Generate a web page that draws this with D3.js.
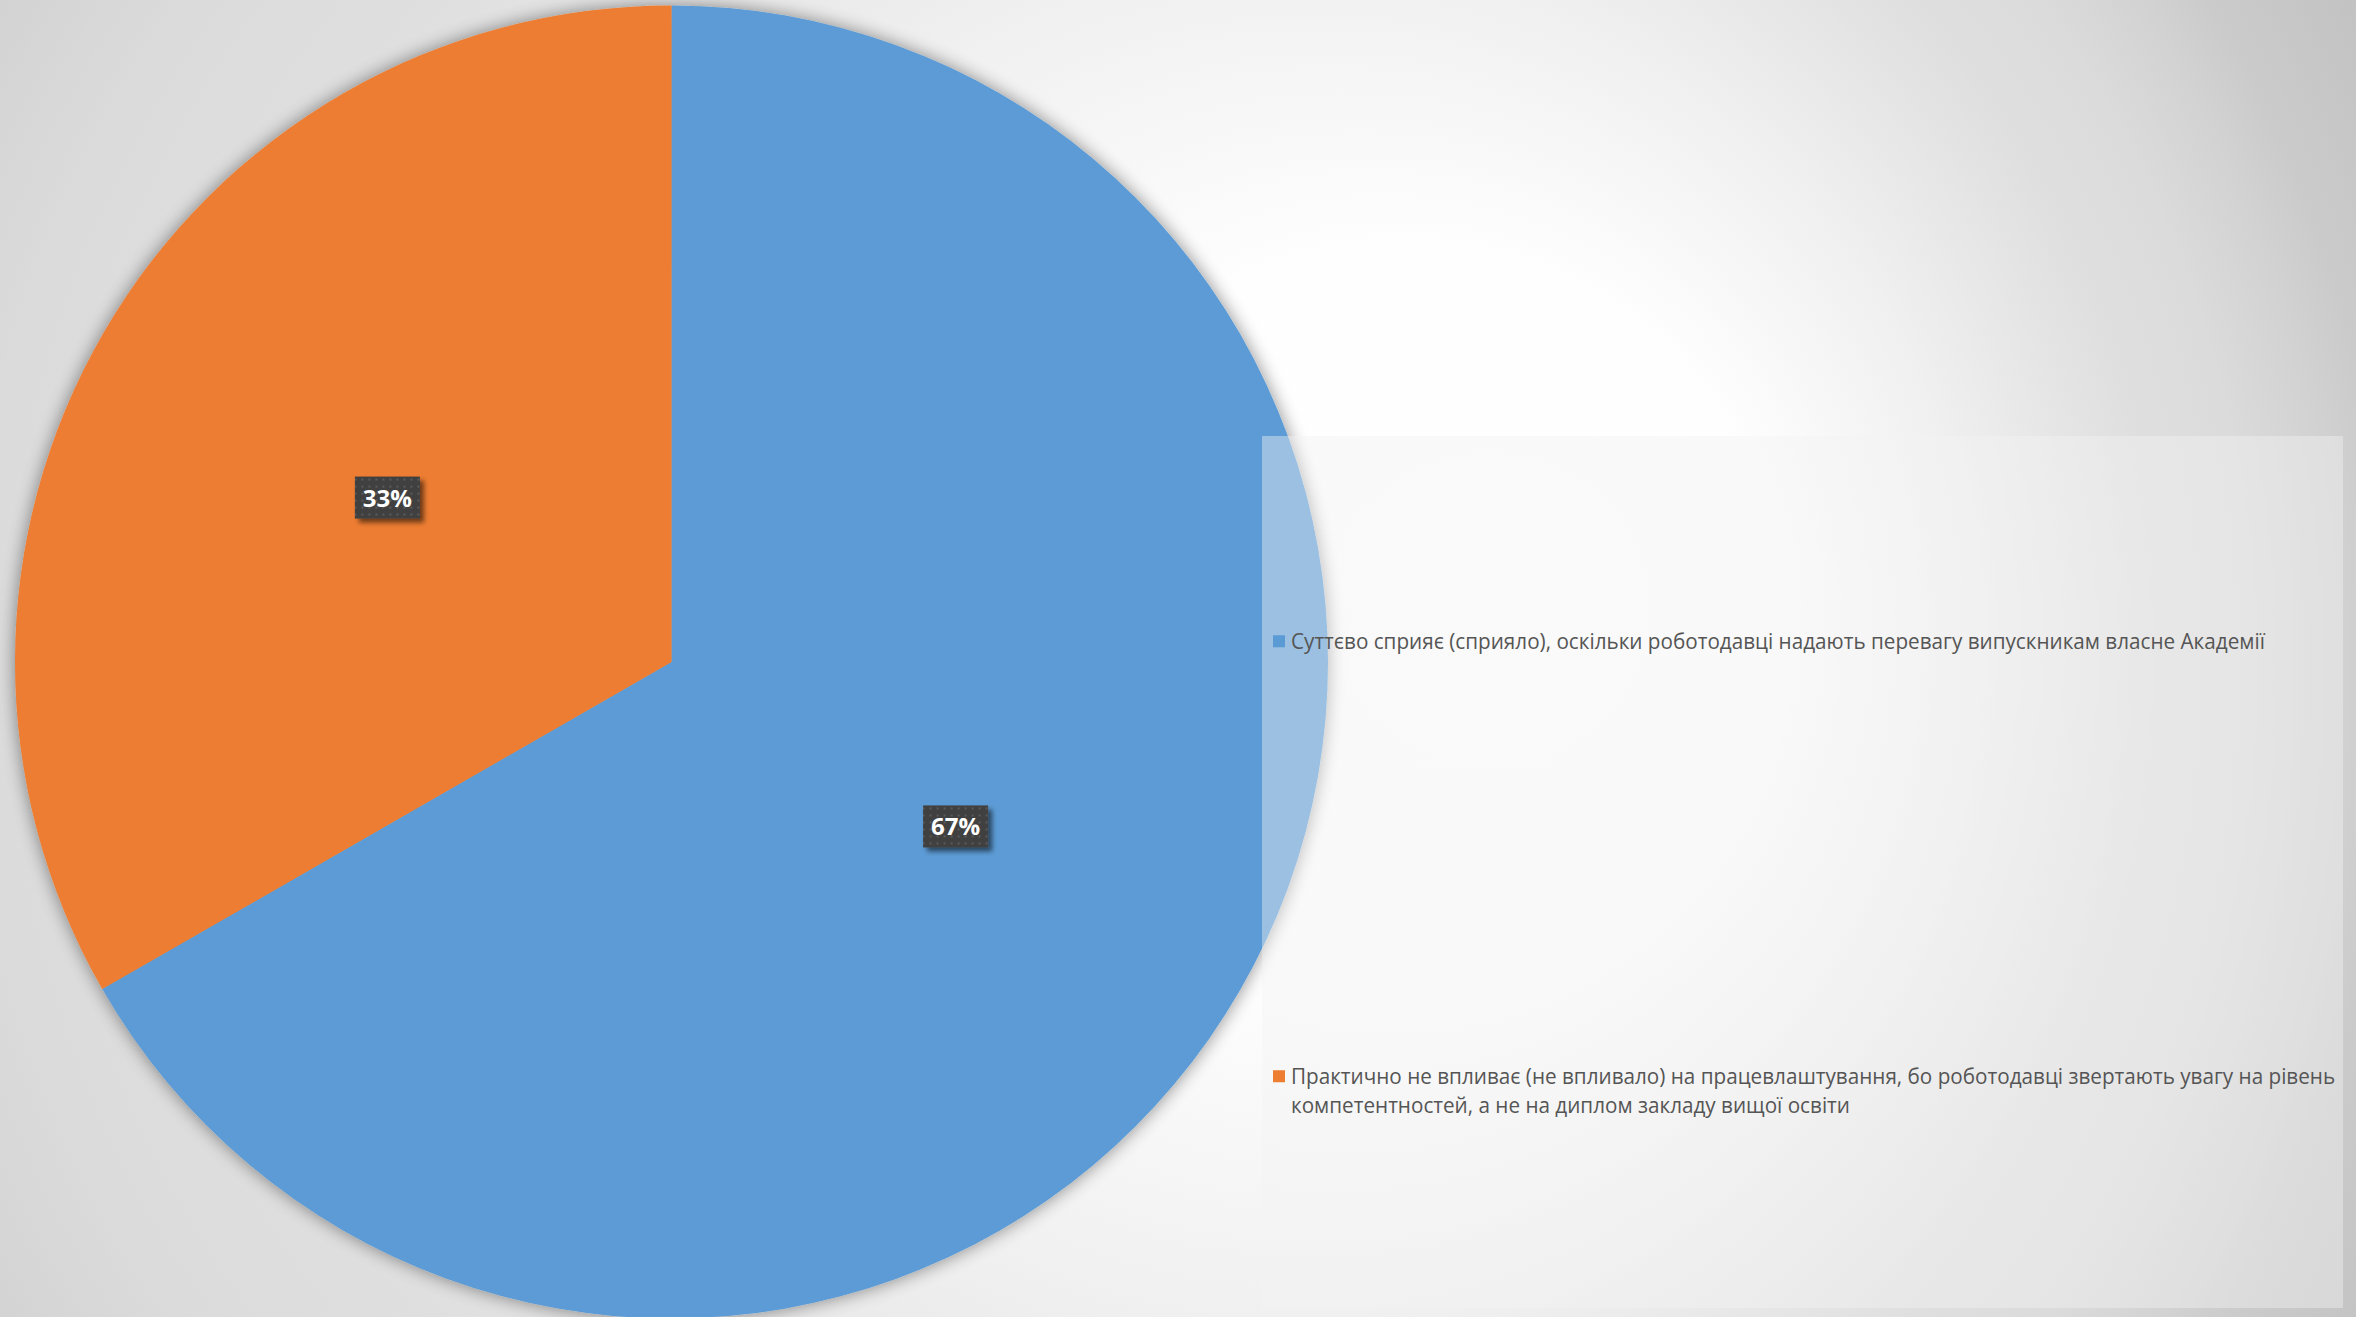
<!DOCTYPE html>
<html>
<head>
<meta charset="utf-8">
<script src="https://cdn.jsdelivr.net/npm/d3@7"></script>
<style>
  html, body { margin: 0; padding: 0; background: #dcdcdc; overflow: hidden; }
  svg { display: block; }
</style>
</head>
<body>
<script>
// ---------------- data ----------------
const categories = [
  "Суттєво сприяє (сприяло), оскільки роботодавці надають перевагу випускникам власне Академії",
  "Практично не впливає (не впливало) на працевлаштування, бо роботодавці звертають увагу на рівень компетентностей, а не на диплом закладу вищої освіти"
];
const values = [66.7, 33.3];
const valueLabels = ["67%", "33%"];
const colors = ["#5B9BD5", "#ED7D31"];

// ---------------- layout ----------------
const W = 2356, H = 1317;
const cx = 671.5, cy = 662, R = 656.5;
const legendBox = { x: 1262, y: 436, w: 1081, h: 872 };
const legendTextX = 1291, markerX = 1273, markerSize = 12;
const legendFont = 22, lineH = 29, condense = 0.94;

const svg = d3.select("body").append("svg")
  .attr("width", W).attr("height", H)
  .attr("viewBox", `0 0 ${W} ${H}`);

const defs = svg.append("defs");

// background gradient (focal radial)
const bg = defs.append("radialGradient")
  .attr("id", "bgGrad")
  .attr("gradientUnits", "userSpaceOnUse")
  .attr("cx", 900).attr("cy", 700).attr("r", 1700)
  .attr("fx", 1550).attr("fy", 600);
[[0, 255], [0.22, 254], [0.4, 240], [0.58, 223], [0.67, 219], [0.75, 210], [0.8, 203], [0.9, 196], [1, 186]]
  .forEach(([o, g]) => bg.append("stop").attr("offset", o).attr("stop-color", d3.rgb(g, g, g)));

// pie shadow
const ps = defs.append("filter").attr("id", "pieShadow")
  .attr("x", "-10%").attr("y", "-10%").attr("width", "120%").attr("height", "120%");
ps.append("feGaussianBlur").attr("in", "SourceAlpha").attr("stdDeviation", 9).attr("result", "b");
ps.append("feComponentTransfer").attr("in", "b").attr("result", "bo")
  .append("feFuncA").attr("type", "linear").attr("slope", 0.45);
const pm = ps.append("feMerge");
pm.append("feMergeNode").attr("in", "bo");
pm.append("feMergeNode").attr("in", "SourceGraphic");

// label shadow
const ls = defs.append("filter").attr("id", "lblShadow")
  .attr("x", "-30%").attr("y", "-30%").attr("width", "170%").attr("height", "170%");
ls.append("feGaussianBlur").attr("in", "SourceAlpha").attr("stdDeviation", 2.5).attr("result", "b");
ls.append("feOffset").attr("in", "b").attr("dx", 4).attr("dy", 4).attr("result", "o");
ls.append("feComponentTransfer").attr("in", "o").attr("result", "oo")
  .append("feFuncA").attr("type", "linear").attr("slope", 0.55);
const lm = ls.append("feMerge");
lm.append("feMergeNode").attr("in", "oo");
lm.append("feMergeNode").attr("in", "SourceGraphic");

// dotted pattern for data label boxes
const pat = defs.append("pattern").attr("id", "dots")
  .attr("patternUnits", "userSpaceOnUse").attr("width", 7).attr("height", 7);
pat.append("rect").attr("width", 7).attr("height", 7).attr("fill", "#404040");
pat.append("rect").attr("x", 2).attr("y", 2).attr("width", 2).attr("height", 2).attr("fill", "#5a5a5a");

// background
svg.append("rect").attr("width", W).attr("height", H).attr("fill", "url(#bgGrad)");

// ---------------- pie ----------------
const pieGen = d3.pie().sort(null).value(d => d);
const arcs = pieGen(values);
const arc = d3.arc().innerRadius(0).outerRadius(R);

const gPie = svg.append("g")
  .attr("transform", `translate(${cx},${cy})`)
  .attr("filter", "url(#pieShadow)");
gPie.selectAll("path").data(arcs).join("path")
  .attr("d", arc)
  .attr("fill", (d, i) => colors[i]);

// data labels
const gLbl = svg.append("g").attr("transform", `translate(${cx},${cy})`);
arcs.forEach((d, i) => {
  const [x, y] = arc.centroid(d);
  const g = gLbl.append("g").attr("transform", `translate(${x},${y})`);
  const rect = g.append("rect").attr("fill", "url(#dots)").attr("filter", "url(#lblShadow)");
  const t = g.append("text")
    .attr("text-anchor", "middle")
    .attr("y", 9)
    .attr("font-family", "'Open Sans', 'Liberation Sans', sans-serif")
    .attr("font-weight", 700)
    .attr("font-size", 24)
    .attr("fill", "#ffffff")
    .text(valueLabels[i]);
  const tw = t.node().getComputedTextLength();
  const bw = tw + 16, bh = 42;
  rect.attr("x", -bw / 2).attr("y", -bh / 2).attr("width", bw).attr("height", bh);
});

// ---------------- legend ----------------
svg.append("rect")
  .attr("x", legendBox.x).attr("y", legendBox.y)
  .attr("width", legendBox.w).attr("height", legendBox.h)
  .attr("fill", "#F2F2F2").attr("fill-opacity", 0.42);

const legendY = d3.scalePoint().domain(d3.range(categories.length))
  .range([430, 1302]).padding(0.47);

const maxTextW = legendBox.x + legendBox.w - legendTextX;
const gLeg = svg.append("g")
  .attr("font-family", "'Open Sans', 'Liberation Sans', sans-serif")
  .attr("font-size", legendFont)
  .attr("fill", "#555555");

function measure(str) {
  const t = gLeg.append("text").text(str);
  const w = t.node().getComputedTextLength();
  t.remove();
  return w;
}

categories.forEach((cat, i) => {
  const words = cat.split(" ");
  const lines = [];
  let cur = "";
  words.forEach(w => {
    const test = cur ? cur + " " + w : w;
    if (measure(test) * condense > maxTextW && cur) { lines.push(cur); cur = w; }
    else cur = test;
  });
  if (cur) lines.push(cur);

  const center = legendY(i);
  const firstCenter = center - (lines.length - 1) * lineH / 2;
  gLeg.append("rect")
    .attr("x", markerX).attr("y", firstCenter - markerSize / 2)
    .attr("width", markerSize).attr("height", markerSize)
    .attr("fill", colors[i]);
  lines.forEach((ln, j) => {
    gLeg.append("text")
      .attr("transform", `translate(${legendTextX},${firstCenter + j * lineH + 8}) scale(${condense},1)`)
      .text(ln);
  });
});
</script>
</body>
</html>
